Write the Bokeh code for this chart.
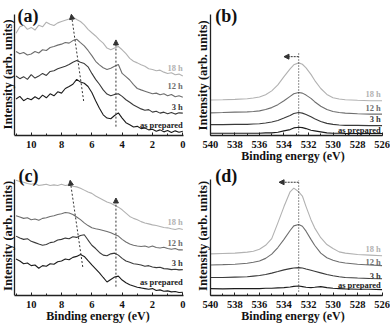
from bokeh.plotting import figure
from bokeh.layouts import row, column
from bokeh.models import Arrow, NormalHead, Label, SingleIntervalTicker, FixedTicker, Range1d
from bokeh.core.properties import value
from bokeh.embed import file_html
from bokeh.resources import INLINE

FONT = "Liberation Serif"

samples = ["as prepared", "3 h", "12 h", "18 h"]
colors = ["#1c1c1c", "#3a3a3a", "#6e6e6e", "#b2b2b2"]

# valence band binding energies (eV)
ev_vb = [11.0, 10.75, 10.5, 10.25, 10.0, 9.75, 9.5, 9.25, 9.0, 8.75, 8.5, 8.25, 8.0,
         7.75, 7.5, 7.25, 7.0, 6.75, 6.5, 6.25, 6.0, 5.75, 5.5, 5.25, 5.0, 4.75, 4.5,
         4.25, 4.0, 3.75, 3.5, 3.25, 3.0, 2.75, 2.5, 2.25, 2.0, 1.75, 1.5, 1.25, 1.0,
         0.75, 0.5, 0.25, 0.0]

# panel (a) valence band intensities (offset, arb. units)
a_asprep = [37.0, 39.7, 35.3, 37.7, 36.3, 39.3, 37.0, 41.0, 38.3, 42.3, 40.3, 44.3, 43.0, 47.7, 49.7,
            52.0, 57.0, 54.3, 53.0, 49.7, 43.7, 35.3, 27.7, 21.0, 17.7, 17.0, 20.3, 23.0, 17.7, 13.0,
            11.0, 8.7, 9.3, 7.0, 7.7, 5.7, 6.3, 4.3, 5.7, 3.7, 5.0, 3.0, 4.7, 3.3, 4.3]
a_3h = [60.3, 57.7, 59.7, 57.0, 61.7, 58.3, 60.3, 63.0, 61.0, 65.0, 65.7, 67.7, 69.0, 70.3, 72.0,
        74.3, 76.0, 74.3, 73.0, 69.7, 63.0, 57.0, 52.0, 46.3, 42.0, 40.3, 41.7, 42.3, 39.7, 36.3,
        33.7, 31.0, 29.0, 27.0, 25.7, 26.3, 23.7, 24.7, 22.7, 23.7, 22.0, 23.3, 21.7, 23.0, 22.7]
a_12h = [85.3, 83.0, 84.3, 81.7, 82.7, 85.3, 83.7, 87.0, 86.3, 89.3, 90.3, 91.7, 92.7, 94.3, 93.7,
         96.3, 97.7, 94.3, 91.0, 86.3, 81.0, 75.3, 71.7, 68.7, 67.0, 68.3, 70.3, 72.0, 63.0, 59.7,
         56.3, 51.7, 47.7, 46.3, 45.0, 43.7, 42.3, 43.0, 41.3, 42.3, 40.3, 41.7, 39.3, 40.3, 38.7]
a_18h = [103.7, 110.3, 112.0, 107.7, 109.7, 107.0, 112.0, 110.3, 115.0, 113.0, 111.7, 114.3, 115.7,
         117.0, 118.3, 120.3, 117.7, 115.7, 112.3, 107.7, 104.3, 101.0, 97.0, 93.7, 88.7, 87.0,
         88.7, 90.3, 87.0, 83.0, 78.3, 75.3, 73.7, 71.7, 70.3, 67.7, 67.0, 65.7, 66.3, 64.3, 63.0,
         63.7, 61.7, 62.3, 60.3]

# panel (c) valence band intensities
c_asprep = [37.0, 35.0, 32.3, 33.0, 30.3, 31.0, 27.7, 30.3, 29.7, 32.3, 31.7, 34.3, 35.0, 37.0, 36.3,
            38.7, 39.7, 41.7, 39.7, 35.3, 31.0, 27.0, 23.0, 18.3, 13.7, 16.3, 18.7, 19.7, 15.7, 13.0,
            11.0, 9.7, 8.3, 7.7, 7.0, 6.3, 7.0, 5.0, 5.7, 4.3, 4.7, 3.7, 4.0, 3.0, 3.3]
c_3h = [60.3, 58.3, 57.0, 57.7, 55.0, 53.7, 52.3, 51.0, 51.7, 53.7, 54.3, 56.3, 57.0, 58.3, 57.7,
        59.7, 59.0, 61.0, 61.7, 56.3, 51.0, 47.7, 43.7, 41.0, 40.3, 42.3, 43.0, 41.0, 37.7, 35.0,
        33.7, 32.3, 31.7, 31.0, 29.7, 30.3, 29.0, 28.3, 28.7, 27.3, 27.0, 26.3, 26.7, 26.0, 26.3]
c_12h = [81.0, 79.7, 78.3, 79.0, 77.0, 77.7, 76.3, 78.3, 79.0, 80.3, 81.0, 82.3, 83.0, 84.3, 83.7,
         82.3, 79.7, 77.0, 73.7, 71.0, 68.7, 67.7, 67.0, 66.0, 65.0, 63.7, 62.0, 60.3, 57.0, 54.3,
         52.3, 51.0, 50.3, 49.7, 50.3, 49.0, 50.3, 48.7, 48.3, 49.0, 47.7, 47.0, 47.7, 46.3, 46.3]
c_18h = [117.0, 115.7, 115.0, 113.7, 113.0, 113.7, 111.7, 112.3, 113.0, 111.7, 112.3, 111.7, 113.0,
         111.7, 112.3, 111.0, 110.3, 109.0, 107.0, 105.0, 103.7, 101.0, 99.0, 97.0, 95.0, 93.7,
         91.7, 89.7, 87.0, 83.7, 80.3, 78.3, 77.0, 75.0, 73.7, 72.7, 71.7, 71.0, 70.0, 69.0, 68.7,
         67.7, 67.0, 68.0, 67.0]

# O 1s binding energies (eV)
ev_o1s = [540, 539, 538, 537, 536.5, 536, 535.5, 535, 534.5, 534, 533.5, 533.2, 532.8, 532.5,
          532.2, 531.8, 531.5, 531, 530.5, 530, 529.5, 529, 528, 527, 526]

# panel (b)
b_asprep = [2.3, 2.3, 2.3, 2.3, 2.3, 2.3, 2.7, 2.7, 3.3, 4.7, 6.0, 7.7, 8.3, 8.0, 7.0, 5.3, 4.7, 3.7,
            2.7, 2.3, 2.3, 2.0, 2.0, 2.0, 2.0]
b_3h = [11.0, 11.0, 11.3, 11.3, 11.7, 12.0, 12.7, 13.7, 15.3, 17.7, 20.3, 22.3, 23.3, 22.7, 21.3,
        19.0, 17.0, 14.3, 12.3, 11.3, 10.7, 10.3, 10.3, 10.0, 10.0]
b_12h = [23.0, 23.3, 23.7, 24.0, 24.3, 25.0, 26.3, 28.3, 31.3, 35.3, 39.7, 42.3, 43.7, 43.0, 41.0,
         37.7, 34.3, 29.7, 26.3, 24.3, 23.3, 22.7, 22.0, 21.7, 21.7]
b_18h = [36.0, 36.3, 36.7, 37.3, 38.0, 39.0, 41.3, 45.3, 51.3, 59.7, 67.7, 71.7, 73.7, 72.3, 68.7,
         62.0, 56.0, 47.7, 41.7, 38.3, 37.0, 36.3, 35.7, 35.3, 35.3]

# panel (d)
d_asprep = [7.0, 6.7, 7.0, 7.0, 7.0, 7.0, 7.3, 7.3, 7.7, 8.0, 8.7, 9.3, 9.7, 9.0, 8.3, 8.0, 8.3, 9.0,
            8.0, 7.3, 7.0, 6.7, 6.3, 6.3, 6.0]
d_3h = [18.3, 18.3, 18.7, 19.0, 19.7, 20.3, 21.3, 22.7, 24.3, 26.0, 27.3, 28.0, 28.3, 28.0, 27.0,
        25.7, 24.7, 23.0, 21.3, 20.0, 19.0, 18.3, 17.7, 17.3, 17.0]
d_12h = [31.0, 31.3, 31.7, 32.7, 33.7, 35.0, 37.7, 42.0, 48.7, 57.0, 66.0, 70.7, 72.0, 70.3, 65.3,
         57.0, 51.0, 43.0, 38.3, 35.7, 34.0, 33.0, 31.7, 31.0, 30.3]
d_18h = [42.3, 42.7, 43.0, 44.0, 45.0, 47.0, 51.0, 57.7, 73.7, 90.3, 105.3, 109.0, 105.3, 101.0,
         90.3, 77.0, 68.7, 58.7, 51.7, 47.7, 44.3, 43.0, 41.7, 41.0, 40.3]

# sample-label heights per panel
lab_a = [10.8, 28.7, 50.0, 68.2]
lab_b = [6.0, 16.5, 27.5, 42.0]
lab_c = [13.3, 33.5, 53.0, 74.5]
lab_d = [10.7, 20.3, 33.7, 47.0]

YTITLE = "Intensity (arb. units)"
XTITLE = "Binding energy (eV)"


def make_panel(height, xr, xbounds, ytop, ybound, xtitle):
    p = figure(width=195, height=height, x_range=Range1d(*xr), y_range=Range1d(0, ytop),
               output_backend="svg", toolbar_location=None,
               min_border_left=0, min_border_right=0,
               min_border_top=0, min_border_bottom=28)
    p.xgrid.grid_line_color = None
    p.ygrid.grid_line_color = None
    p.outline_line_color = None
    p.background_fill_color = "white"
    xa = p.xaxis[0]
    xa.bounds = xbounds
    xa.ticker = SingleIntervalTicker(interval=2, num_minor_ticks=2)
    xa.major_tick_in = 3
    xa.major_tick_out = 0
    xa.minor_tick_in = 2
    xa.minor_tick_out = 0
    xa.axis_line_width = 1.3
    xa.axis_line_color = "#222222"
    xa.major_tick_line_color = "#222222"
    xa.minor_tick_line_color = "#222222"
    xa.major_label_text_font = FONT
    xa.major_label_text_font_style = "bold"
    xa.major_label_text_font_size = "10.5px"
    xa.major_label_text_color = "#111111"
    xa.major_label_standoff = 5
    if xtitle:
        xa.axis_label = xtitle
        xa.axis_label_text_font = FONT
        xa.axis_label_text_font_style = "bold"
        xa.axis_label_text_font_size = "12px"
        xa.axis_label_text_color = "#111111"
        xa.axis_label_standoff = -2
    ya = p.yaxis[0]
    ya.fixed_location = xbounds[1]
    ya.ticker = FixedTicker(ticks=[])
    ya.bounds = (0, ybound)
    ya.major_tick_out = 0
    ya.major_tick_in = 0
    ya.axis_line_width = 1.3
    ya.axis_line_color = "#222222"
    return p


def y_title(p, x, y):
    p.add_layout(Label(x=x, y=y, text=YTITLE, angle=90, angle_units="deg",
                       text_align="center", text_baseline="middle",
                       text_font=FONT, text_font_style="bold", text_font_size="12.5px",
                       text_color="#111111"))


def add_curves(p, x, ys, labx, laby):
    for y, c in zip(ys, colors):
        p.line(x, y, line_color=c, line_width=1.1)
    p.text(x=[labx] * 4, y=laby, text=samples, text_color=colors,
           text_font=value(FONT), text_font_style="bold", text_font_size="8.5px",
           text_align="right", text_baseline="middle")


def panel_tag(p, x, y, t):
    p.add_layout(Label(x=x, y=y, text=t, text_font=FONT, text_font_style="bold",
                       text_font_size="18px", text_color="#111111", text_baseline="alphabetic"))


def dashed_arrow(p, x0, y0, x1, y1, dash="2 2"):
    p.add_layout(Arrow(end=NormalHead(size=5, fill_color="#333333", line_color="#333333"),
                       x_start=x0, y_start=y0, x_end=x1, y_end=y1,
                       line_color="#333333", line_width=1, line_dash=dash))


VB_RANGE = (12.025, -0.838)
VB_BOUNDS = (-0.05, 11.1)
O_RANGE = (541.22, 525.31)
O_BOUNDS = (526, 540)

# (a)  figure spans page y 0..165, frame bottom at 137
pa = make_panel(165, VB_RANGE, VB_BOUNDS, 137, 123, None)
add_curves(pa, ev_vb, [a_asprep, a_3h, a_12h, a_18h], 0.0, lab_a)
dashed_arrow(pa, 6.54, 35, 7.35, 123)
dashed_arrow(pa, 4.41, 9, 4.41, 97)
panel_tag(pa, 10.9, 121.5, "(a)")
y_title(pa, 11.56, 62)

# (b)
pb = make_panel(165, O_RANGE, O_BOUNDS, 137, 123, XTITLE)
add_curves(pb, ev_o1s, [b_asprep, b_3h, b_12h, b_18h], 526.1, lab_b)
pb.line([532.8, 532.8], [0, 85], line_color="#222222", line_width=1, line_dash="1 2")
dashed_arrow(pb, 532.8, 80, 534.0, 80, "2 1")
panel_tag(pb, 539.6, 121, "(b)")
y_title(pb, 540.57, 61)

# (c)  figure spans page y 165..325, frame bottom at 297
pc = make_panel(160, VB_RANGE, VB_BOUNDS, 132, 118, XTITLE)
add_curves(pc, ev_vb, [c_asprep, c_3h, c_12h, c_18h], 0.0, lab_c)
dashed_arrow(pc, 6.6, 29, 7.43, 117)
dashed_arrow(pc, 4.41, 9, 4.41, 99)
panel_tag(pc, 10.84, 121, "(c)")
y_title(pc, 11.56, 60.5)

# (d)
pd_ = make_panel(160, O_RANGE, O_BOUNDS, 132, 118, XTITLE)
add_curves(pd_, ev_o1s, [d_asprep, d_3h, d_12h, d_18h], 526.1, lab_d)
pd_.line([532.8, 532.8], [4, 117], line_color="#222222", line_width=1, line_dash="1 2")
dashed_arrow(pd_, 532.8, 115, 534.4, 115, "2 1")
panel_tag(pd_, 539.6, 121, "(d)")
y_title(pd_, 540.57, 60.5)

layout = column(row(pa, pb), row(pc, pd_))
open("out.html", "w").write(file_html(layout, INLINE))
